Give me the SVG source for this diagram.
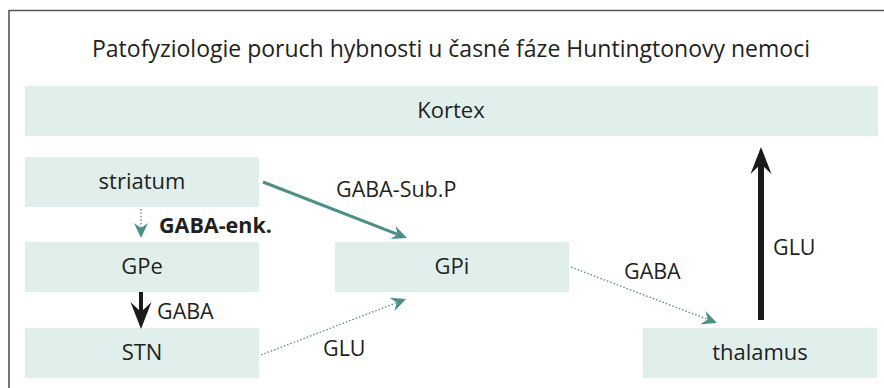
<svg xmlns="http://www.w3.org/2000/svg" width="884" height="388" viewBox="0 0 884 388">
<style>
.box{fill:#e0efeb}
.t{font-family:"Open Sans","Noto Sans",sans-serif;font-size:21.5px;fill:#231f20}
.n{font-size:22px}
.h{font-size:23px}
.c{text-anchor:middle}
.b{font-weight:bold}
.teal{stroke:#4c8f87;fill:none}
.dot{stroke-width:1.3;stroke-dasharray:1.5 2}
</style>
<defs>
<marker id="tealHead" markerUnits="userSpaceOnUse" markerWidth="24" markerHeight="24" viewBox="-18 -12 24 24" refX="-10" refY="0" orient="auto">
<path d="M0,0 L-15,-7 L-10,0 L-15,7 Z" fill="#4c8f87"/>
</marker>
<marker id="blackHead" markerUnits="userSpaceOnUse" markerWidth="34" markerHeight="34" viewBox="-30 -15 34 30" refX="-17" refY="0" orient="auto">
<path d="M0,0 L-27,-10.5 L-17,0 L-27,10.5 Z" fill="#1a1a1a"/>
</marker>
</defs>
<rect width="884" height="388" fill="#ffffff"/>
<path d="M9,388 L9,10.5 L884,10.5" fill="none" stroke="#555555" stroke-width="1.6"/>
<text class="t h c" x="451" y="57">Patofyziologie poruch hybnosti u časné fáze Huntingtonovy nemoci</text>
<g id="kortex"><rect class="box" x="25" y="86" width="853" height="50"/><text class="t n c" x="451" y="118">Kortex</text></g>
<g id="striatum"><rect class="box" x="25" y="157" width="234" height="50"/><text class="t n c" x="142" y="189">striatum</text></g>
<g id="gpe"><rect class="box" x="25" y="242" width="234" height="50"/><text class="t n c" x="142" y="274">GPe</text></g>
<g id="stn"><rect class="box" x="25" y="328" width="234" height="50"/><text class="t n c" x="142" y="360">STN</text></g>
<g id="gpi"><rect class="box" x="335" y="242" width="234" height="50"/><text class="t n c" x="452" y="274">GPi</text></g>
<g id="thalamus"><rect class="box" x="643" y="328" width="234" height="50"/><text class="t n c" x="760" y="360">thalamus</text></g>
<g id="connectors">
<line class="teal" x1="263" y1="182" x2="397.7" y2="234.4" stroke-width="3" marker-end="url(#tealHead)"/>
<line class="teal dot" x1="141" y1="209" x2="141" y2="228" marker-end="url(#tealHead)"/>
<line class="teal dot" x1="261" y1="355" x2="396.7" y2="302.6" marker-end="url(#tealHead)"/>
<line class="teal dot" x1="571" y1="267" x2="707.6" y2="319.4" marker-end="url(#tealHead)"/>
<line x1="141" y1="292" x2="141" y2="312" stroke="#1a1a1a" stroke-width="4" marker-end="url(#blackHead)"/>
<line x1="761" y1="320" x2="761" y2="164" stroke="#1a1a1a" stroke-width="6" marker-end="url(#blackHead)"/>
<text class="t" x="336" y="197">GABA-Sub.P</text>
<text class="t b" x="159" y="233">GABA-enk.</text>
<text class="t" x="157" y="319">GABA</text>
<text class="t" x="323" y="356">GLU</text>
<text class="t" x="624" y="279">GABA</text>
<text class="t" x="773" y="255">GLU</text>
</g>
</svg>
